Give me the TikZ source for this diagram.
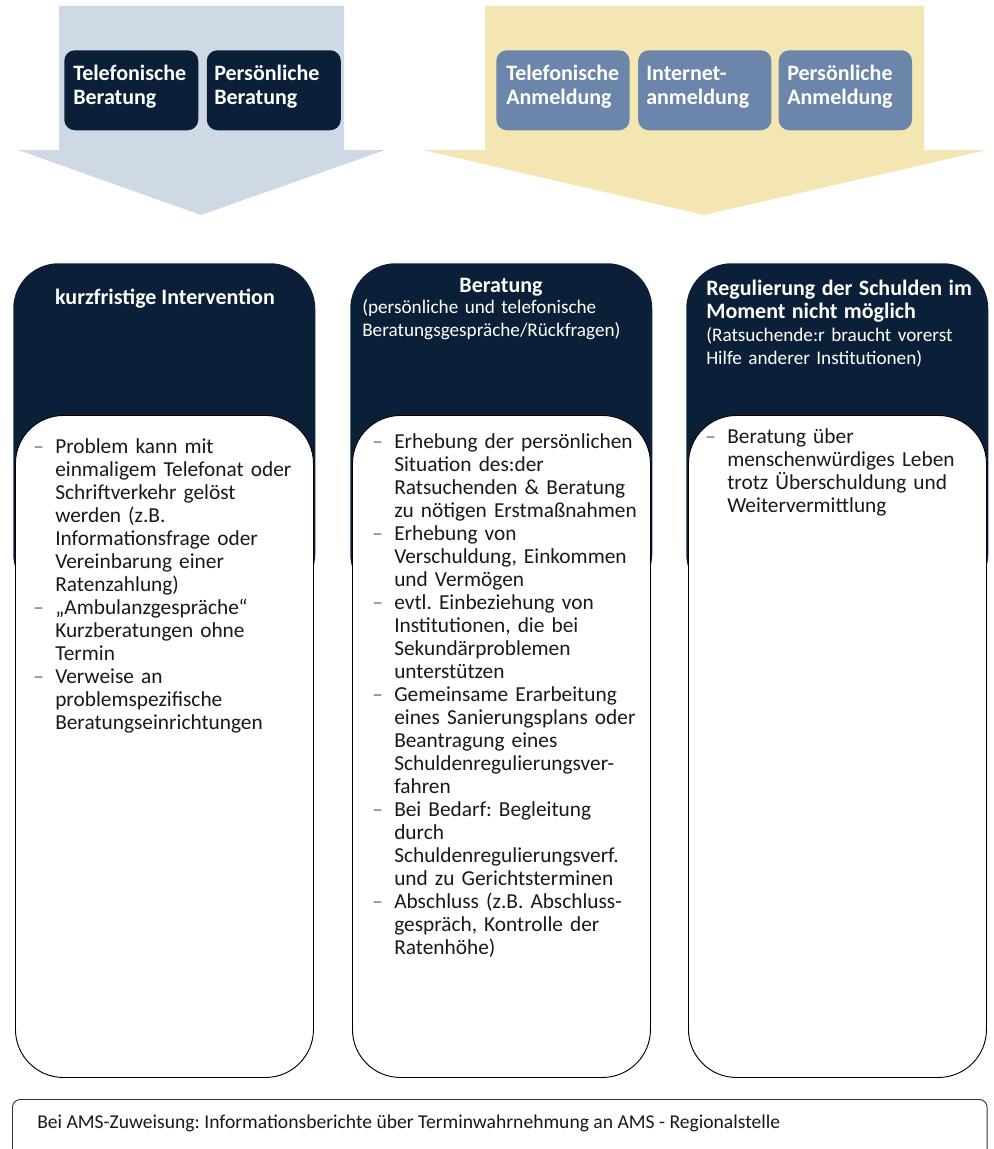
\documentclass[tikz,border=0pt]{standalone}
\usepackage{fontspec}
\setmainfont{Carlito}
\usetikzlibrary{positioning}

\definecolor{navy}{RGB}{11,32,56}
\definecolor{arrowblue}{RGB}{207,216,229}
\definecolor{arrowyellow}{RGB}{244,230,178}
\definecolor{regblue}{RGB}{108,134,171}

\frenchspacing

% one bullet line with a dash and a hanging indent
\newcommand{\dashitem}[1]{\noindent\hangindent=16.5pt\hangafter=1\makebox[16.5pt][l]{\textcolor{black!55}{--}}#1\par}

\begin{document}
\begin{tikzpicture}[x=0.75pt,y=-0.75pt,
  channel/.style={rectangle,rounded corners=8pt,minimum width=100.5pt,minimum height=60pt,anchor=north west,inner sep=0pt},
  channeltext/.style={anchor=base west,inner sep=0pt,text width=98pt,align=left,text=white,font=\bfseries\fontsize{16.5}{17.25}\selectfont},
  colhead/.style={rectangle,fill=navy,rounded corners=34pt,minimum width=226.5pt,minimum height=252pt,anchor=north west,inner sep=0pt},
  colbody/.style={rectangle,fill=white,draw=black,line width=0.7pt,rounded corners=36pt,minimum width=223.5pt,minimum height=496.5pt,anchor=north west,inner sep=0pt},
  headtext/.style={inner sep=0pt,text=white,font=\bfseries\fontsize{16.5}{17.25}\selectfont},
  subtext/.style={anchor=base west,inner sep=0pt,text width=218pt,align=left,text=white,font=\fontsize{14.4}{17.25}\selectfont},
  listtext/.style={anchor=base west,inner sep=0pt,text width=212pt,align=left,text=black!90,font=\fontsize{16}{17.25}\selectfont}]
\useasboundingbox (0,0) rectangle (993,1149);

% arrows on top
\fill[arrowblue] (59,6) -- (344,6) -- (344,150) -- (385,150) -- (201,215) -- (18,150) -- (59,150) -- cycle;
\fill[arrowyellow] (485,6) -- (924,6) -- (924,150) -- (987,150) -- (704,215) -- (423,150) -- (485,150) -- cycle;

% channels
\node[channel,fill=navy] (tel) at (64,50) {};
\node[channel,fill=navy,right=6pt of tel.north east,anchor=north west] (pers) {};
\node[channel,fill=regblue,minimum width=100pt] (telanm) at (496,50) {};
\node[channel,fill=regblue,minimum width=100pt,right=6pt of telanm.north east,anchor=north west] (netanm) {};
\node[channel,fill=regblue,minimum width=100pt,right=5pt of netanm.north east,anchor=north west] (persanm) {};

\node[channeltext] (teltxt) at (73,81) {Telefonische\\Beratung};
\node[channeltext] (perstxt) at (214,81) {Persönliche\\Beratung};
\node[channeltext] (telanmtxt) at (506,81) {Telefonische\\Anmeldung};
\node[channeltext] (netanmtxt) at (646,81) {Internet-\\anmeldung};
\node[channeltext] (persanmtxt) at (787,81) {Persönliche\\Anmeldung};

% columns
\node[colhead] (head1) at (13,263) {};
\node[colhead] (head2) at (350,263) {};
\node[colhead] (head3) at (686,263) {};
\node[colbody] (body1) at (15,415) {};
\node[colbody] (body2) at (352,415) {};
\node[colbody] (body3) at (688,415) {};

\node[headtext,anchor=base] (title1) at (165,304) {kurzfristige Intervention};
\node[headtext,anchor=base] (title2) at (501,292) {Beratung};
\node[subtext] (sub2) at (362,313) {(persönliche und telefonische\\Beratungsgespräche/Rückfragen)};
\node[subtext] (title3) at (706,295) {{\bfseries\fontsize{16.5}{17.25}\selectfont Regulierung der Schulden im}\\{\bfseries\fontsize{16.5}{17.25}\selectfont Moment nicht möglich}\\(Ratsuchende:r braucht vorerst\\Hilfe anderer Institutionen)};

\node[listtext] (list1) at (33,453) {%
\dashitem{Problem kann mit\newline einmaligem Telefonat oder\newline Schriftverkehr gelöst\newline werden (z.B.\newline Informationsfrage oder\newline Vereinbarung einer\newline Ratenzahlung)}%
\dashitem{„Ambulanzgespräche“\newline Kurzberatungen ohne\newline Termin}%
\dashitem{Verweise an\newline problemspezifische\newline Beratungseinrichtungen}};

\node[listtext] (list2) at (372,448) {%
\dashitem{Erhebung der persönlichen\newline Situation des:der\newline Ratsuchenden \& Beratung\newline zu nötigen Erstmaßnahmen}%
\dashitem{Erhebung von\newline Verschuldung, Einkommen\newline und Vermögen}%
\dashitem{evtl. Einbeziehung von\newline Institutionen, die bei\newline Sekundärproblemen\newline unterstützen}%
\dashitem{Gemeinsame Erarbeitung\newline eines Sanierungsplans oder\newline Beantragung eines\newline Schuldenregulierungsver-\newline fahren}%
\dashitem{Bei Bedarf: Begleitung\newline durch\newline Schuldenregulierungsverf.\newline und zu Gerichtsterminen}%
\dashitem{Abschluss (z.B. Abschluss-\newline gespräch, Kontrolle der\newline Ratenhöhe)}};

\node[listtext] (list3) at (705,443) {%
\dashitem{Beratung über\newline menschenwürdiges Leben\newline trotz Überschuldung und\newline Weitervermittlung}};

% note at the bottom
\node[draw=black!80,line width=0.7pt,rounded corners=6pt,minimum width=731pt,minimum height=52pt,anchor=north west,inner sep=0pt] (ams) at (12,1099) {};
\node[anchor=base west,inner sep=0pt,text=black!90,font=\fontsize{14.7}{17}\selectfont] (amstxt) at (37,1128) {Bei AMS-Zuweisung: Informationsberichte über Terminwahrnehmung an AMS - Regionalstelle};
\end{tikzpicture}
\end{document}
